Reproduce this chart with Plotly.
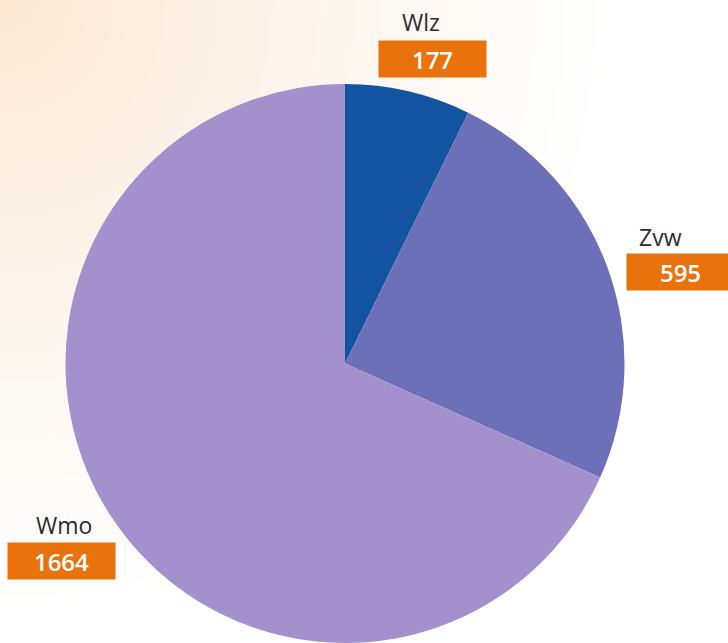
import base64, struct, zlib
import plotly.graph_objects as go

# ---- data ----
labels = ["Wlz", "Zvw", "Wmo"]
values = [177, 595, 1664]
value_text = ["177", "595", "1664"]

# ---- style ----
W, H = 728, 643
slice_colors = ["#1254a2", "#6c70b8", "#a590ce"]
box_color = "#ea720c"
name_color = "#2b2b2b"
# label block positions in pixels: (name_x, name_y, box_x, box_y)
label_pos = {
    "Wlz": (421, 22.5, 432.5, 58.5),
    "Zvw": (660, 236.5, 680, 272),
    "Wmo": (63.5, 525, 61.5, 561),
}
BOX_W, BOX_H = 107, 36


def gradient_png(w, h, corner=(250, 230, 210), end=(255, 255, 255), reach_px=610):
    rows = []
    for j in range(h):
        row = bytearray([0])
        for i in range(w):
            px = i / w * W
            py = j / h * H
            t = min(1.0, (px * px + py * py) ** 0.5 / reach_px)
            t = t ** 0.75
            for c0, c1 in zip(corner, end):
                row.append(int(round(c0 + (c1 - c0) * t)))
        rows.append(bytes(row))
    raw = b"".join(rows)

    def chunk(tag, data):
        c = struct.pack(">I", len(data)) + tag + data
        return c + struct.pack(">I", zlib.crc32(tag + data) & 0xFFFFFFFF)

    png = b"\x89PNG\r\n\x1a\n"
    png += chunk(b"IHDR", struct.pack(">IIBBBBB", w, h, 8, 2, 0, 0, 0))
    png += chunk(b"IDAT", zlib.compress(raw, 9))
    png += chunk(b"IEND", b"")
    return "data:image/png;base64," + base64.b64encode(png).decode()


bg = gradient_png(182, 161)

fig = go.Figure(
    go.Pie(
        labels=labels,
        values=values,
        sort=False,
        direction="clockwise",
        rotation=0,
        marker=dict(colors=slice_colors, line=dict(width=0)),
        textinfo="none",
        hoverinfo="label+value",
        showlegend=False,
        domain=dict(x=[65 / W, 625 / W], y=[0, (H - 84) / H]),
    )
)

annotations = []
for lab, val in zip(labels, value_text):
    nx, ny, bx, by = label_pos[lab]
    annotations.append(dict(
        x=nx / W, y=1 - ny / H, xref="paper", yref="paper",
        xanchor="center", yanchor="middle", showarrow=False,
        text=lab, font=dict(family="Open Sans", size=23, color=name_color),
    ))
    annotations.append(dict(
        x=bx / W, y=1 - by / H, xref="paper", yref="paper",
        xanchor="center", yanchor="middle", showarrow=False,
        text=val, width=BOX_W, height=BOX_H, bgcolor=box_color, borderpad=0,
        align="center", valign="middle",
        font=dict(family="Open Sans", size=24, color="white", weight=600),
    ))

fig.update_layout(
    width=W, height=H,
    margin=dict(l=0, r=0, t=0, b=0),
    paper_bgcolor="white",
    plot_bgcolor="rgba(0,0,0,0)",
    annotations=annotations,
    images=[dict(source=bg, xref="paper", yref="paper", x=0, y=1,
                 sizex=1, sizey=1, sizing="stretch", xanchor="left",
                 yanchor="top", layer="below")],
)

fig.write_html(
    "out.html",
    config={"displayModeBar": False},
    post_script="document.body.style.margin='0';document.body.style.overflow='hidden';",
)
